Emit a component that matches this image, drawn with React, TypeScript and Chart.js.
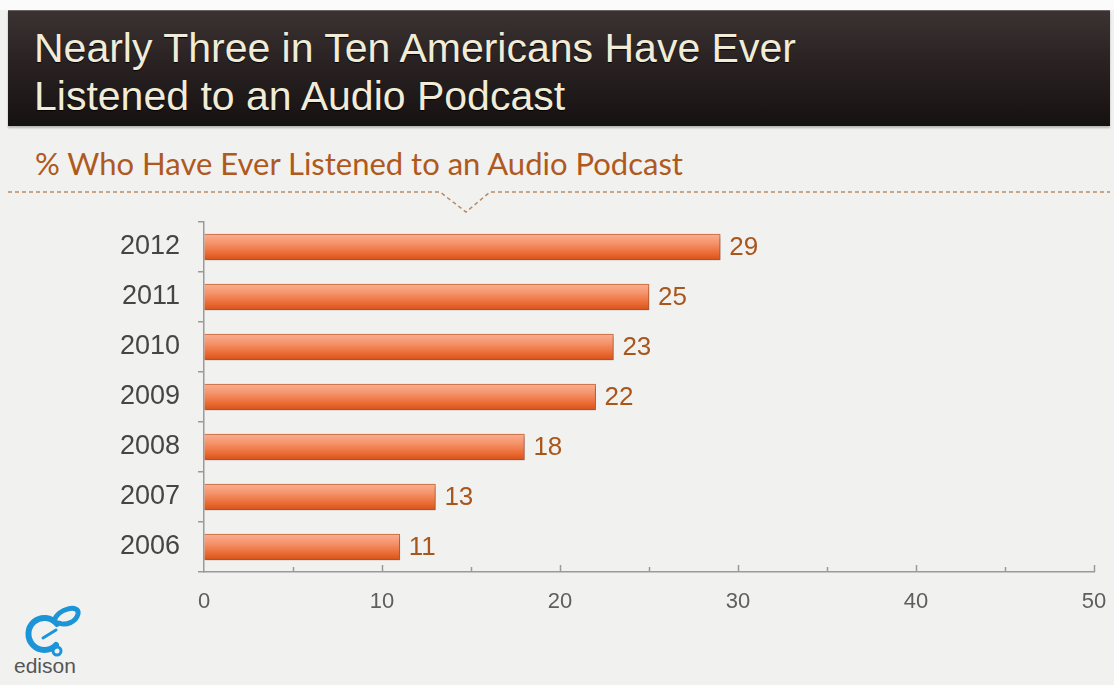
import React, { useEffect, useRef } from 'react';
import { Chart, registerables } from 'chart.js';

Chart.register(...registerables);

const titleLines = ['Nearly Three in Ten Americans Have Ever', 'Listened to an Audio Podcast'];
const subtitle = '% Who Have Ever Listened to an Audio Podcast';
const years = ['2012', '2011', '2010', '2009', '2008', '2007', '2006'];
const values = [29, 25, 23, 22, 18, 13, 11];
const xMin = 0;
const xMax = 50;
const xStep = 5;
const xLabelStep = 10;

const SANS = '"Liberation Sans", Arial, Helvetica, sans-serif';

const upTicksPlugin = {
  id: 'upTicks',
  afterDraw(chart: any) {
    const xs = chart.scales.x;
    const ctx = chart.ctx;
    ctx.save();
    ctx.strokeStyle = '#9a9a9a';
    ctx.lineWidth = 1.5;
    xs.ticks.forEach((t: any) => {
      if (t.value === xMin) return;
      const px = Math.round(xs.getPixelForValue(t.value)) + 0.5;
      const len = t.value % xLabelStep === 0 ? 7 : 5;
      ctx.beginPath();
      ctx.moveTo(px, xs.top);
      ctx.lineTo(px, xs.top - len);
      ctx.stroke();
    });
    ctx.restore();
  },
};

const shadowPlugin = {
  id: 'barShadow',
  beforeDatasetsDraw(chart: any) {
    const ctx = chart.ctx;
    ctx.save();
    ctx.shadowColor = 'rgba(0,0,0,0.28)';
    ctx.shadowBlur = 4;
    ctx.shadowOffsetX = 1;
    ctx.shadowOffsetY = 2;
  },
  afterDatasetsDraw(chart: any) {
    chart.ctx.restore();
  },
};

const valueLabelPlugin = {
  id: 'valueLabels',
  afterDatasetsDraw(chart: any) {
    const ctx = chart.ctx;
    const meta = chart.getDatasetMeta(0);
    ctx.save();
    ctx.font = `26px ${SANS}`;
    ctx.fillStyle = '#a9561d';
    ctx.textAlign = 'left';
    ctx.textBaseline = 'middle';
    meta.data.forEach((bar: any, i: number) => {
      ctx.fillText(String(values[i]), bar.x + 9, bar.y + 1);
    });
    ctx.restore();
  },
};

function barGradient(c: any) {
  const chart = c.chart;
  const ys = chart.scales && chart.scales.y;
  if (!ys || c.dataIndex === undefined) return '#ef7d4e';
  const y = ys.getPixelForValue(c.dataIndex);
  if (!Number.isFinite(y)) return '#ef7d4e';
  const g = chart.ctx.createLinearGradient(0, y - 13, 0, y + 13);
  g.addColorStop(0, '#f9b092');
  g.addColorStop(0.35, '#f5936b');
  g.addColorStop(0.75, '#ea6a32');
  g.addColorStop(1, '#d6521a');
  return g;
}

export default function App() {
  const canvasRef = useRef<HTMLCanvasElement | null>(null);

  useEffect(() => {
    document.body.style.margin = '0';
    const canvas = canvasRef.current;
    if (!canvas) return;
    const chart = new Chart(canvas, {
      type: 'bar',
      data: {
        labels: years,
        datasets: [
          {
            data: values,
            backgroundColor: barGradient as any,
            borderColor: 'rgba(196,80,25,0.85)',
            borderWidth: 1,
            borderSkipped: 'start',
            barThickness: 26,
          },
        ],
      },
      options: {
        indexAxis: 'y',
        responsive: false,
        animation: false,
        layout: { padding: { top: 222, right: 20, left: 0, bottom: 0 } },
        plugins: {
          legend: { display: false },
          tooltip: { enabled: false },
          title: { display: false },
        },
        scales: {
          x: {
            type: 'linear',
            position: 'bottom',
            min: xMin,
            max: xMax,
            ticks: {
              stepSize: xStep,
              autoSkip: false,
              maxRotation: 0,
              padding: 17,
              color: '#5e5e5e',
              font: { family: SANS, size: 22 },
              callback: (v: any) => (Number(v) % xLabelStep === 0 ? String(v) : ''),
            },
            grid: { drawOnChartArea: false, drawTicks: false },
            border: { display: true, color: '#9a9a9a', width: 1.5 },
            afterFit: (s: any) => {
              s.height = 113;
              s.paddingLeft = 0;
              s.paddingRight = 0;
            },
          },
          y: {
            type: 'category',
            position: 'left',
            ticks: {
              padding: 18,
              color: '#454545',
              font: { family: SANS, size: 27 },
            },
            grid: {
              drawOnChartArea: false,
              drawTicks: true,
              tickLength: 6,
              color: '#9a9a9a',
              lineWidth: 1.5,
              offset: true,
            },
            border: { display: true, color: '#9a9a9a', width: 1.5 },
            afterFit: (s: any) => {
              s.width = 204;
              s.paddingTop = 0;
              s.paddingBottom = 0;
            },
          },
        },
      } as any,
      plugins: [shadowPlugin, valueLabelPlugin, upTicksPlugin],
    });
    return () => chart.destroy();
  }, []);

  return (
    <div
      style={{
        position: 'fixed',
        left: 0,
        top: 0,
        width: 1114,
        height: 685,
        background: '#f1f1f0',
        overflow: 'hidden',
      }}
    >
      <div style={{ position: 'absolute', left: 0, top: 0, width: 1114, height: 10, background: '#fbfbfb' }} />
      <div
        style={{
          position: 'absolute',
          left: 8,
          top: 10,
          width: 1102,
          height: 115,
          background: 'linear-gradient(#3b3232, #2a2222 45%, #161111)',
          borderTop: '1px solid #6a6262',
          boxShadow: '0 2px 2px rgba(0,0,0,0.25)',
        }}
      />
      <div
        style={{
          position: 'absolute',
          left: 34,
          top: 24,
          fontFamily: SANS,
          fontSize: 41,
          lineHeight: '48px',
          color: '#f1ecd8',
          textShadow: '0 1px 1px rgba(0,0,0,0.9)',
          whiteSpace: 'nowrap',
        }}
      >
        {titleLines.map((l, i) => (
          <div key={i}>{l}</div>
        ))}
      </div>
      <div
        style={{
          position: 'absolute',
          left: 35,
          top: 145,
          fontFamily: 'Lato, "Open Sans", sans-serif',
          fontSize: 31,
          lineHeight: '36px',
          color: '#b0591d',
          whiteSpace: 'nowrap',
        }}
      >
        {subtitle}
      </div>
      <svg
        width={1114}
        height={685}
        style={{ position: 'absolute', left: 0, top: 0 }}
      >
        <polyline
          points="8,192 440,192 466,212 490,192 1110,192"
          fill="none"
          stroke="#bb8a60"
          strokeWidth={1.5}
          strokeDasharray="4 3"
        />
        <g fill="none" stroke="#1c94d8" strokeWidth={6} strokeLinecap="round">
          <path d="M 57 624 A 16 16 0 1 0 56 645" />
          <path d="M 43 638 L 56 630" strokeWidth={3} />
          <path d="M 54 621 C 58 608, 80 604, 78 614 C 76 622, 66 626, 59 623" strokeWidth={5} />
        </g>
        <circle cx={57} cy={651} r={4} fill="none" stroke="#1c94d8" strokeWidth={3} />
      </svg>
      <div
        style={{
          position: 'absolute',
          left: 14,
          top: 654,
          fontFamily: SANS,
          fontSize: 21,
          lineHeight: '24px',
          color: '#555',
        }}
      >
        edison
      </div>
      <canvas
        ref={canvasRef}
        width={1114}
        height={685}
        style={{ position: 'absolute', left: 0, top: 0 }}
      />
    </div>
  );
}
